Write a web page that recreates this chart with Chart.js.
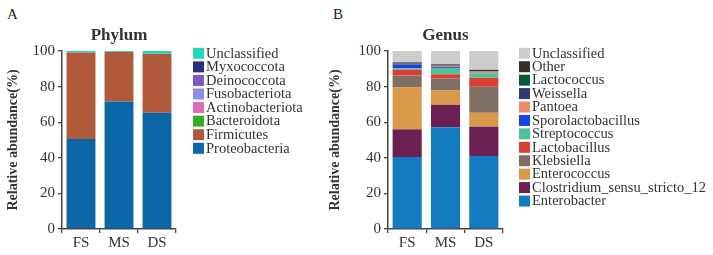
<!DOCTYPE html>
<html>
<head>
<meta charset="utf-8">
<script src="https://cdn.jsdelivr.net/npm/chart.js@4"></script>
<style>
  body { margin: 0; background: #fff; }
  #wrap { position: relative; width: 713px; height: 255px; font-family: "Liberation Serif", serif; }
  .tag { position: absolute; font-size: 15px; color: #222; }
  #boxA { position: absolute; left: 0; top: 0; width: 322px; height: 255px; }
  #boxB { position: absolute; left: 322px; top: 0; width: 391px; height: 255px; }
</style>
</head>
<body>
<div id="wrap">
  <div class="tag" style="left:7px;top:6px">A</div>
  <div class="tag" style="left:333px;top:6px">B</div>
  <div id="boxA"><canvas id="phylumChart"></canvas></div>
  <div id="boxB"><canvas id="genusChart"></canvas></div>
</div>
<script>
const samples = ["FS", "MS", "DS"];
const yTicks = [0, 20, 40, 60, 80, 100];

// phylum, stacked bottom -> top
const phylumNames = ["Proteobacteria", "Firmicutes", "Bacteroidota", "Actinobacteriota",
  "Fusobacteriota", "Deinococcota", "Myxococcota", "Unclassified"];
const proteobacteria = [50.6, 71.6, 65.3];
const firmicutes = [48.6, 27.8, 33.0];
const bacteroidota = [0.05, 0.03, 0.08];
const actinobacteriota = [0.03, 0.02, 0.05];
const fusobacteriota = [0.02, 0.01, 0.02];
const deinococcota = [0.01, 0.01, 0.02];
const myxococcota = [0.01, 0.01, 0.02];
const phylumUnclassified = [0.68, 0.52, 1.51];
const phylumColors = ["#0b66a8", "#b05a3b", "#35ad2a", "#dc6cb6", "#8f8ce6", "#7b5cbf", "#2a2e7e", "#1fd8b8"];

// genus, stacked bottom -> top
const genusNames = ["Enterobacter", "Clostridium_sensu_stricto_12", "Enterococcus", "Klebsiella",
  "Lactobacillus", "Streptococcus", "Sporolactobacillus", "Pantoea", "Weissella",
  "Lactococcus", "Other", "Unclassified"];
const enterobacter = [40.4, 57.2, 41.0];
const clostridium = [15.6, 12.6, 16.5];
const enterococcus = [23.6, 8.2, 7.8];
const klebsiella = [6.6, 6.6, 14.6];
const lactobacillus = [3.3, 2.3, 5.1];
const streptococcus = [0.7, 3.6, 2.5];
const sporolactobacillus = [2.0, 0.5, 0.1];
const pantoea = [0.1, 0.6, 0.8];
const weissella = [0.7, 0.2, 0.1];
const lactococcus = [0.1, 0.1, 0.1];
const other = [0.5, 0.6, 0.8];
const genusUnclassified = [6.4, 7.5, 10.6];
const genusColors = ["#137bc0", "#6b1f52", "#d9994b", "#7f6e63", "#db3f33", "#4cc49b",
  "#1446e6", "#ea8a71", "#2e3a70", "#0b5a3c", "#3a2e2b", "#cccccc"];

const serif = "'Liberation Serif', serif";

// legend on the right, top item = top of stack
const sideLegend = {
  id: "sideLegend",
  afterDraw(chart, args, opts) {
    const ctx = chart.ctx;
    const sets = chart.data.datasets.slice().reverse();
    ctx.save();
    ctx.font = "14.5px " + serif;
    ctx.textBaseline = "middle";
    sets.forEach((ds, i) => {
      const cy = opts.top + i * opts.step;
      ctx.fillStyle = ds.backgroundColor;
      ctx.fillRect(opts.left, cy - opts.box / 2, opts.box, opts.box);
      ctx.fillStyle = "#333";
      ctx.fillText(ds.label, opts.left + opts.box + 2, cy + 0.5);
    });
    ctx.restore();
  }
};

function makeChart(id, title, names, series, colors, axisW, padRight, legend) {
  return new Chart(document.getElementById(id), {
    type: "bar",
    data: {
      labels: samples,
      datasets: series.map((data, i) => ({
        label: names[i],
        data,
        backgroundColor: colors[i],
        borderWidth: 0,
        categoryPercentage: 1,
        barPercentage: 0.76
      }))
    },
    options: {
      responsive: true,
      maintainAspectRatio: false,
      animation: false,
      layout: { padding: { left: 0, right: padRight, top: 0, bottom: 0 } },
      plugins: {
        legend: { display: false },
        tooltip: { enabled: false },
        title: {
          display: true,
          text: title,
          fullSize: false,
          color: "#333",
          font: { family: serif, size: 17, weight: "bold" },
          padding: { top: 25, bottom: 5.6 }
        },
        sideLegend: legend
      },
      scales: {
        x: {
          stacked: true,
          grid: { display: true, drawOnChartArea: false, drawTicks: true, tickLength: 4, color: "#444", lineWidth: 1.3 },
          border: { display: true, color: "#444", width: 1.5 },
          ticks: { color: "#333", font: { family: serif, size: 15 }, padding: 1 },
          afterFit(scale) { scale.height = 26; }
        },
        y: {
          stacked: true,
          min: 0,
          max: 100,
          afterBuildTicks(scale) { scale.ticks = yTicks.map(v => ({ value: v })); },
          grid: { display: true, drawOnChartArea: false, drawTicks: true, tickLength: 4, color: "#444", lineWidth: 1.3 },
          border: { display: true, color: "#444", width: 1.5 },
          ticks: { color: "#333", font: { family: serif, size: 15 }, padding: 3 },
          title: {
            display: true,
            text: "Relative abundance(%)",
            color: "#333",
            font: { family: serif, size: 14, weight: "bold" },
            padding: { top: 5, bottom: 0 }
          },
          afterFit(scale) { scale.width = axisW; }
        }
      }
    },
    plugins: [sideLegend]
  });
}

makeChart("phylumChart", "Phylum", phylumNames,
  [proteobacteria, firmicutes, bacteroidota, actinobacteriota, fusobacteriota, deinococcota, myxococcota, phylumUnclassified],
  phylumColors, 62, 322 - 176,
  { left: 193, top: 53.3, step: 13.57, box: 11 });

makeChart("genusChart", "Genus", genusNames,
  [enterobacter, clostridium, enterococcus, klebsiella, lactobacillus, streptococcus, sporolactobacillus,
   pantoea, weissella, lactococcus, other, genusUnclassified],
  genusColors, 66, 391 - 181,
  { left: 197, top: 53.3, step: 13.43, box: 11 });
</script>
</body>
</html>
